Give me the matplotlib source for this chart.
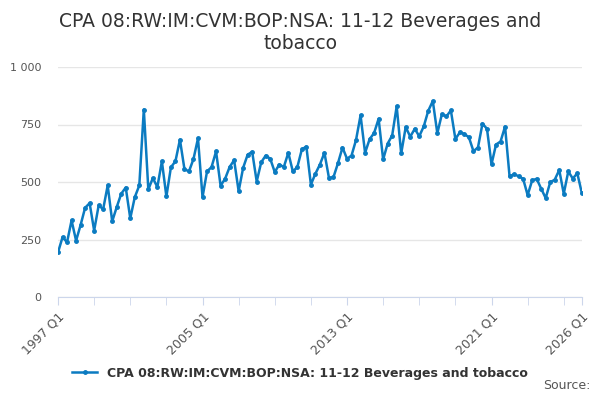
import matplotlib
matplotlib.use("Agg")
import matplotlib.pyplot as plt

# quarterly values, 1997 Q1 .. 2026 Q1
values = [
    194, 260, 238, 333, 245, 313, 388, 408, 289, 398, 382, 485, 329, 391, 449, 476,
    342, 434, 485, 815, 468, 517, 478, 590, 437, 564, 590, 684, 556, 546, 600, 690,
    434, 546, 565, 633, 484, 514, 565, 595, 460, 562, 619, 631, 502, 586, 615, 601,
    543, 576, 565, 627, 546, 565, 642, 654, 489, 536, 576, 627, 518, 521, 582, 650,
    601, 615, 683, 790, 627, 686, 713, 775, 598, 667, 702, 829, 624, 739, 697, 731,
    699, 742, 810, 852, 712, 794, 785, 811, 687, 716, 709, 694, 634, 650, 754, 731,
    577, 663, 676, 741, 524, 534, 525, 514, 443, 507, 514, 471, 430, 499, 510, 552,
    449, 546, 515, 538, 452,
]
start_year = 1997
label_years = [1997, 2005, 2013, 2021, 2026]
series_name = "CPA 08:RW:IM:CVM:BOP:NSA: 11-12 Beverages and tobacco"
colour = "#0b7bc1"

x = list(range(len(values)))

fig = plt.figure(figsize=(6, 4), dpi=100)
ax = fig.add_axes([0.0967, 0.2575, 0.873, 0.575])

ax.plot(x, values, color=colour, linewidth=1.8, marker="o", markersize=2.5)

ax.set_ylim(0, 1000)
ax.set_yticks([0, 250, 500, 750, 1000])
ax.set_yticklabels(["0", "250", "500", "750", "1 000"])
ax.set_xlim(0, len(values) - 1)

minor = list(range(0, len(values), 8))
ax.set_xticks(minor, minor=True)
major = [(y - start_year) * 4 for y in label_years]
ax.set_xticks(major)
ax.set_xticklabels([f"{y} Q1" for y in label_years], rotation=45, ha="right",
                   rotation_mode="anchor")
ax.tick_params(axis="x", which="both", length=6, color="#ccd6eb", labelsize=9,
               labelcolor="#555555")
ax.tick_params(axis="y", length=0, labelsize=8, labelcolor="#555555", pad=12)

ax.grid(axis="y", color="#e6e6e6", linewidth=1)
ax.set_axisbelow(True)
for s in ["top", "right", "left"]:
    ax.spines[s].set_visible(False)
ax.spines["bottom"].set_color("#ccd6eb")

fig.text(0.5, 0.97, "CPA 08:RW:IM:CVM:BOP:NSA: 11-12 Beverages and\ntobacco",
         ha="center", va="top", fontsize=13.5, color="#333333", linespacing=1.2)

handle, = ax.plot([], [], color=colour, linewidth=1.8, marker="o", markersize=2.5)
fig.legend([handle], [series_name], loc="center", bbox_to_anchor=(0.5, 0.067),
           frameon=False, prop={"size": 9, "weight": "bold"}, labelcolor="#333333",
           handlelength=2)
fig.text(0.985, 0.02, "Source:", ha="right", va="bottom", fontsize=9, color="#555555")

fig.savefig("out.png", dpi=100)
